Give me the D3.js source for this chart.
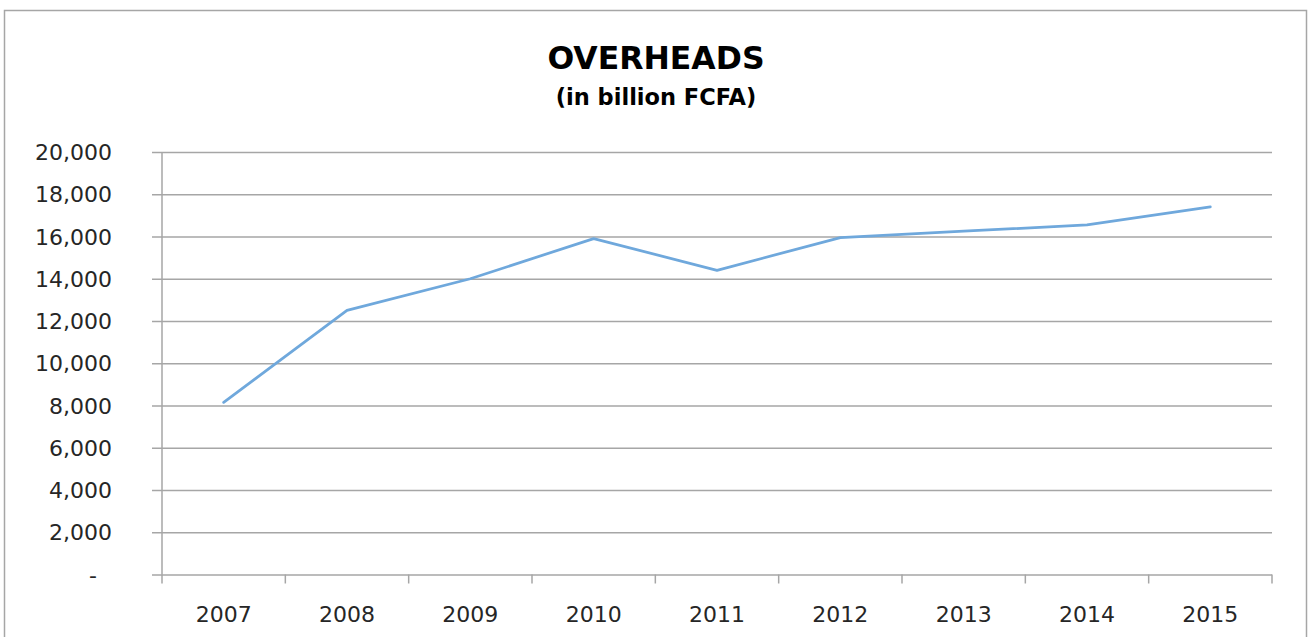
<!DOCTYPE html>
<html>
<head>
<meta charset="utf-8">
<script src="https://cdn.jsdelivr.net/npm/d3@7"></script>
<style>
  html, body { margin: 0; padding: 0; background: #fff; }
  svg { display: block; }
  text { font-family: "DejaVu Sans", "Liberation Sans", sans-serif; fill: #262626; }
</style>
</head>
<body>
<svg id="chart" width="1311" height="637"></svg>
<script>
const years = ["2007","2008","2009","2010","2011","2012","2013","2014","2015"];
const overheads = [8150, 12500, 14000, 15900, 14400, 15950, 16250, 16550, 17400];
const yTicks = [0, 2000, 4000, 6000, 8000, 10000, 12000, 14000, 16000, 18000, 20000];
const titleText = "OVERHEADS";
const subtitleText = "(in billion FCFA)";

const W = 1311, H = 637;
const m = { left: 162, right: 1272, top: 152, bottom: 574.5 };
const svg = d3.select("#chart");

// frame
svg.append("rect").attr("x", 4.5).attr("y", 10.5).attr("width", 1302).attr("height", 640)
  .attr("fill", "#fff").attr("stroke", "#a6a6a6").attr("stroke-width", 1.5);

// title
svg.append("text").attr("x", 656).attr("y", 69).attr("text-anchor", "middle")
  .style("font-size", "31.5px").style("font-weight", "bold").style("fill", "#000")
  .text(titleText);
svg.append("text").attr("x", 656).attr("y", 105).attr("text-anchor", "middle")
  .style("font-size", "22.5px").style("font-weight", "bold").style("fill", "#000")
  .text(subtitleText);

const x = d3.scaleBand().domain(years).range([m.left, m.right]).padding(0);
const y = d3.scaleLinear().domain([0, 20000]).range([m.bottom, m.top]);

// y grid + axis
const yAxis = d3.axisLeft(y).tickValues(yTicks).tickSize(-(m.right - m.left)).tickPadding(50)
  .tickFormat(d => d === 0 ? "-" : d3.format(",")(d));
const gy = svg.append("g").attr("transform", `translate(${m.left},0)`).call(yAxis);
gy.select(".domain").remove();
gy.selectAll(".tick line").attr("stroke", "#a6a6a6").attr("stroke-width", 1.5)
  .attr("x1", -10);
gy.selectAll(".tick text").style("font-size", "22px").style("fill", "#262626")
  .attr("dy", "0.35em")
  .attr("x", d => d === 0 ? -65 : -50);
// vertical axis line
svg.append("line").attr("x1", m.left).attr("x2", m.left).attr("y1", m.top).attr("y2", m.bottom)
  .attr("stroke", "#a6a6a6").attr("stroke-width", 1.5);

// x axis ticks at category boundaries
const boundaries = years.map(d => x(d)).concat([m.right]);
svg.append("g").selectAll("line").data(boundaries).join("line")
  .attr("x1", d => d).attr("x2", d => d).attr("y1", m.bottom).attr("y2", m.bottom + 9)
  .attr("stroke", "#a6a6a6").attr("stroke-width", 1.5);
const xAxis = d3.axisBottom(x).tickSize(0).tickPadding(0);
const gx = svg.append("g").attr("transform", `translate(0,${m.bottom})`).call(xAxis);
gx.select(".domain").remove();
gx.selectAll(".tick text").style("font-size", "22px").style("fill", "#262626")
  .attr("dy", null).attr("y", 47.5);

// line
const line = d3.line().x((d, i) => x(years[i]) + x.bandwidth() / 2).y(d => y(d));
svg.append("path").datum(overheads).attr("d", line)
  .attr("fill", "none").attr("stroke", "#6fa8dc").attr("stroke-width", 2.75)
  .attr("stroke-linejoin", "round").attr("stroke-linecap", "round");
</script>
</body>
</html>
